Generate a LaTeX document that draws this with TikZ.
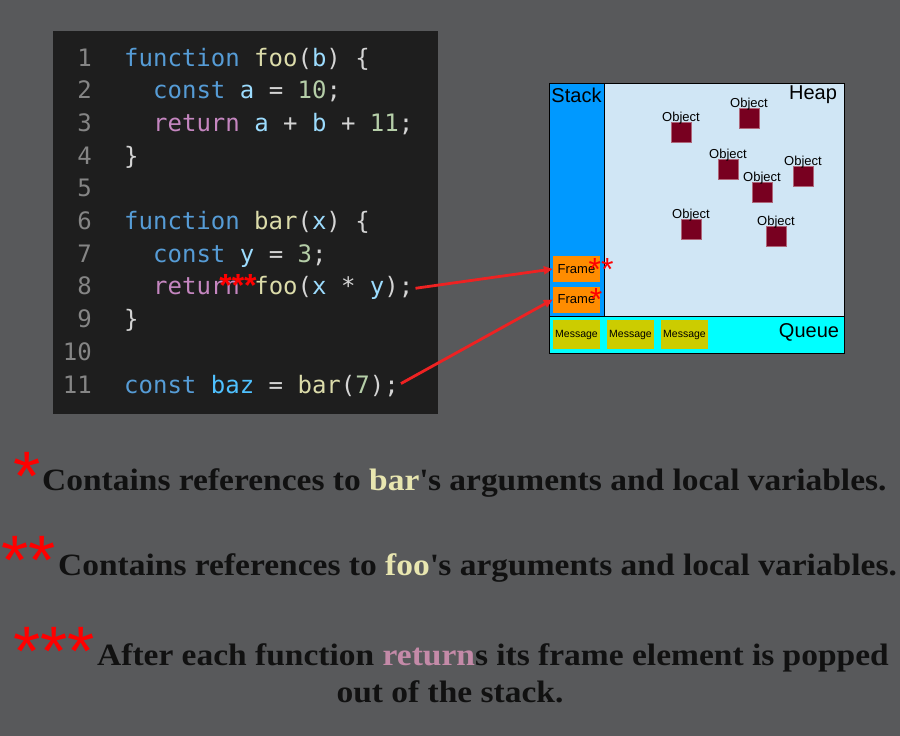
\documentclass[tikz,border=0pt]{standalone}
\usepackage{fontspec}
\setmainfont{Liberation Serif}
\setsansfont{Liberation Sans}
\setmonofont{DejaVu Sans Mono}
\newfontfamily\notefont{Liberation Serif}[FakeStretch=1.08]
\usetikzlibrary{arrows.meta}

\definecolor{pagebg}{HTML}{58595B}
\definecolor{codebg}{HTML}{1E1E1E}
\definecolor{lnumgray}{HTML}{858585}
\definecolor{punctgray}{HTML}{D4D4D4}
\definecolor{kwblue}{HTML}{569CD6}
\definecolor{fnyellow}{HTML}{DCDCAA}
\definecolor{varblue}{HTML}{9CDCFE}
\definecolor{constblue}{HTML}{4FC1FF}
\definecolor{numgreen}{HTML}{B5CEA8}
\definecolor{retpink}{HTML}{C586C0}
\definecolor{stackblue}{HTML}{0099FF}
\definecolor{heapblue}{HTML}{D0E6F5}
\definecolor{queuecyan}{HTML}{00FFFF}
\definecolor{frameorange}{HTML}{FF8C00}
\definecolor{msgolive}{HTML}{CCCC00}
\definecolor{objred}{HTML}{780020}
\definecolor{starred}{HTML}{FF0000}
\definecolor{arrowred}{HTML}{EE2222}
\definecolor{notehl}{HTML}{E8E6B0}
\definecolor{notepink}{HTML}{C48AA8}
\definecolor{noteblack}{HTML}{111111}

\newcommand{\cKw}[1]{\textcolor{kwblue}{#1}}
\newcommand{\cFn}[1]{\textcolor{fnyellow}{#1}}
\newcommand{\cVar}[1]{\textcolor{varblue}{#1}}
\newcommand{\cConst}[1]{\textcolor{constblue}{#1}}
\newcommand{\cNum}[1]{\textcolor{numgreen}{#1}}
\newcommand{\cRet}[1]{\textcolor{retpink}{#1}}

\tikzset{
  lnum/.style={anchor=base east, inner sep=0pt, text=lnumgray, font=\fontsize{24}{24}\ttfamily},
  code/.style={anchor=base west, inner sep=0pt, text=punctgray, font=\fontsize{24}{24}\ttfamily},
  area/.style={draw=black, line width=0.8pt, anchor=north west, inner sep=0pt},
  areatext/.style={inner sep=0pt, font=\fontsize{20}{20}\sffamily},
  framebox/.style={fill=frameorange, minimum width=47pt, minimum height=26pt, inner sep=0pt, font=\fontsize{13}{13}\sffamily},
  msgbox/.style={fill=msgolive, minimum width=47pt, minimum height=29pt, inner sep=0pt, font=\fontsize{10.5}{10.5}\sffamily},
  obj/.style={fill=objred, draw=objred!60!white, line width=0.4pt, minimum size=20pt, inner sep=0pt},
  objtext/.style={anchor=south, inner sep=0pt, font=\fontsize{13}{13}\sffamily},
  star/.style={anchor=base, inner sep=0pt, text=starred, font=\fontsize{32}{32}\sffamily},
  bigstar/.style={anchor=base, inner sep=0pt, text=starred, font=\fontsize{70}{70}\sffamily},
  note/.style={anchor=base west, inner sep=0pt, text=noteblack, font=\fontsize{31}{31}\notefont\bfseries},
  callarrow/.style={-{Triangle[length=9pt,width=8pt]}, arrowred, line width=2.8pt}
}

\begin{document}
\begin{tikzpicture}[x=1pt,y=-1pt]
\useasboundingbox[fill=pagebg] (0,0) rectangle (900,736);

% code panel
\fill[codebg] (53,31) rectangle (438,414);
\foreach \n in {1,...,11}
  \node[lnum] (n\n) at (92,{66+(\n-1)*32.7}) {\n};
\node[code] (l1) at (124,66) {\cKw{function} \cFn{foo}(\cVar{b}) \{};
\node[code] (l2) at (153,98.7) {\cKw{const} \cVar{a} = \cNum{10};};
\node[code] (l3) at (153,131.4) {\cRet{return} \cVar{a} + \cVar{b} + \cNum{11};};
\node[code] (l4) at (124,164.1) {\}};
\node[code] (l6) at (124,229.5) {\cKw{function} \cFn{bar}(\cVar{x}) \{};
\node[code] (l7) at (153,262.2) {\cKw{const} \cVar{y} = \cNum{3};};
\node[code] (l8) at (153,294.9) {\cRet{return} \cFn{foo}(\cVar{x} * \cVar{y});};
\node[code] (l9) at (124,327.6) {\}};
\node[code] (l11) at (124,393) {\cKw{const} \cConst{baz} = \cFn{bar}(\cNum{7});};
\node[star, font=\fontsize{32}{32}\sffamily\bfseries] (retstars) at (238,296) {***};

% stack, heap and queue
\node[area, fill=stackblue, minimum width=55pt, minimum height=233pt] (stack) at (549,83) {};
\node[area, fill=heapblue, minimum width=240pt, minimum height=233pt] (heap) at (604,83) {};
\node[area, fill=queuecyan, minimum width=295pt, minimum height=37pt] (queue) at (549,316) {};
\node[areatext] (stacktext) at (576.5,95) {Stack};
\node[areatext] (heaptext) at (813,95) {Heap};
\node[areatext] (queuetext) at (809,332) {Queue};

\node[framebox] (frame1) at (576.5,269) {Frame};
\node[framebox] (frame2) at (576.5,299.5) {Frame};
\node[star] (frame1stars) at (601,280) {**};
\node[star] (frame2star) at (596,310) {*};

\foreach \i/\x in {1/576.5,2/630.5,3/684.5}
  \node[msgbox] (msg\i) at (\x,334.5) {Message};

\foreach \i/\x/\y in {1/681/132,2/749/118,3/728/169,4/762/192,5/803/176,6/691/229,7/776/236} {
  \node[obj] (obj\i) at (\x,\y) {};
  \node[objtext] (objtext\i) at ([yshift=-3pt]obj\i.north) {Object};
}

% calls
\draw[callarrow] ([xshift=2pt]l8.east) -- (frame1.west);
\draw[callarrow] ([xshift=2pt,yshift=2pt]l11.east) -- (frame2.west);

% notes
\node[bigstar] (note1star) at (27,500) {*};
\node[note] (note1) at (42,490) {Contains references to \textcolor{notehl}{bar}\textquotesingle s arguments and local variables.};
\node[bigstar] (note2star) at (29,584) {**};
\node[note] (note2) at (58,575) {Contains references to \textcolor{notehl}{foo}\textquotesingle s arguments and local variables.};
\node[bigstar] (note3star) at (54,675) {***};
\node[note] (note3) at (97,665) {After each function \textcolor{notepink}{return}s its frame element is popped};
\node[note, anchor=base] (note4) at (450,702) {out of the stack.};
\end{tikzpicture}
\end{document}
